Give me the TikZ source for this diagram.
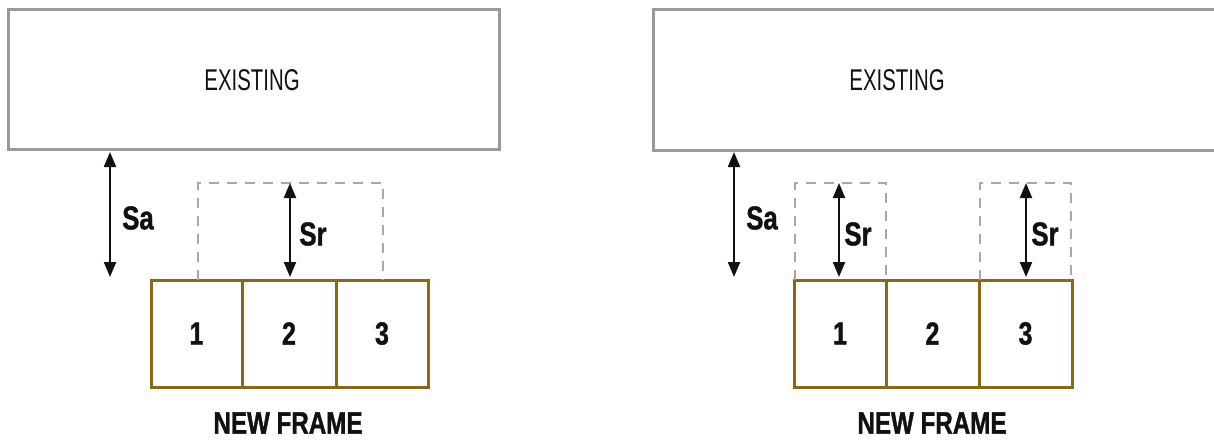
\documentclass[tikz,border=0pt]{standalone}
\usepackage{fontspec}
\setmainfont{Liberation Sans}
\newfontfamily\condreg{Liberation Sans}[FakeStretch=0.68]
\newfontfamily\condbold{Liberation Sans Bold}[FakeStretch=0.78, FakeBold=1.2]
\usetikzlibrary{arrows.meta}
\definecolor{boxgray}{HTML}{9A9A9C}
\definecolor{dashgray}{HTML}{A8A8A8}
\definecolor{framebrown}{HTML}{8B6914}
\definecolor{ink}{HTML}{111111}
\tikzset{
  existbox/.style={draw=boxgray, line width=3pt},
  existtext/.style={text=ink, font=\condreg\fontsize{30}{34}\selectfont, inner sep=0pt},
  cell/.style={draw=framebrown, line width=3pt, minimum width=#1, minimum height=107pt, inner sep=0pt, text=ink, font=\condbold\fontsize{32}{34}\selectfont},
  zone/.style={draw=dashgray, line width=1.7pt, dash pattern=on 10pt off 8pt},
  dim/.style={draw=ink, line width=2.2pt, {Triangle[length=15pt,width=12pt]}-{Triangle[length=15pt,width=12pt]}, shorten <=0pt, shorten >=0pt},
  dimlabel/.style={text=ink, font=\condbold\fontsize{33}{36}\selectfont, inner sep=0pt},
  title/.style={text=ink, font=\condbold\fontsize{31}{36}\selectfont, inner sep=0pt}
}
\begin{document}
\begin{tikzpicture}[x=1pt,y=-1pt]
\useasboundingbox (0,0) rectangle (1214,439);
\clip (0,0) rectangle (1214,439);
% ---------- left panel ----------
\node[existbox, minimum width=491pt, minimum height=140pt, inner sep=0pt] (exL) at (253.5,79) {};
\node[existtext] (exLt) at (252,80) {EXISTING};
\node[cell=91pt]  (L1) at (196.5,333.5) {1};
\node[cell=94pt]  (L2) at (289,333.5) {2};
\node[cell=92pt]  (L3) at (382,333.5) {3};
\draw[zone] (198,280) -- (198,183) -- (383,183) -- (383,280);
\coordinate (saLtop) at (110,152);
\coordinate (saLbot) at (110,277);
\draw[dim] (saLtop) -- (saLbot);
\node[dimlabel] (saL) at (138,218) {Sa};
\coordinate (srLtop) at (290,183);
\coordinate (srLbot) at (290,277);
\draw[dim] (srLtop) -- (srLbot);
\node[dimlabel] (srL) at (313,234) {Sr};
\node[title] (nfL) at (288,423) {NEW FRAME};
% ---------- right panel ----------
\draw[existbox] (653,9) rectangle (1240,150);
\node[existtext] (exRt) at (897,80) {EXISTING};
\node[cell=92pt]  (R1) at (840,333.5) {1};
\node[cell=93pt]  (R2) at (932.5,333.5) {2};
\node[cell=93pt]  (R3) at (1025.5,333.5) {3};
\draw[zone] (795,280) -- (795,183) -- (886,183) -- (886,280);
\draw[zone] (980,280) -- (980,183) -- (1071,183) -- (1071,280);
\coordinate (saRtop) at (734,152);
\coordinate (saRbot) at (734,277);
\draw[dim] (saRtop) -- (saRbot);
\node[dimlabel] (saR) at (762,218) {Sa};
\coordinate (srR1top) at (839,183);
\coordinate (srR1bot) at (839,277);
\draw[dim] (srR1top) -- (srR1bot);
\node[dimlabel] (srR1) at (858,234) {Sr};
\coordinate (srR3top) at (1026,183);
\coordinate (srR3bot) at (1026,277);
\draw[dim] (srR3top) -- (srR3bot);
\node[dimlabel] (srR3) at (1045,234) {Sr};
\node[title] (nfR) at (932,423) {NEW FRAME};
\end{tikzpicture}
\end{document}
